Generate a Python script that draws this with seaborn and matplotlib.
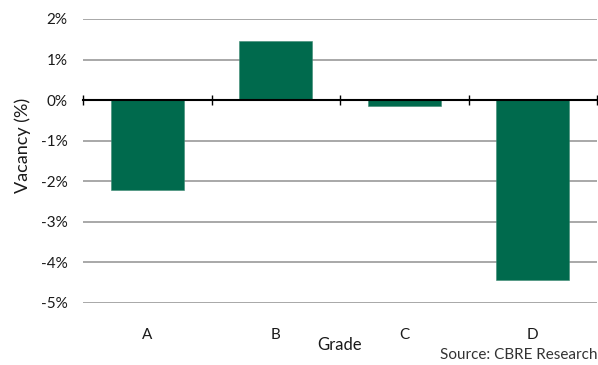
import matplotlib
matplotlib.use("Agg")
import matplotlib.pyplot as plt
import seaborn as sns
import pandas as pd

grades = ["A", "B", "C", "D"]
vacancy_change = [-2.22, 1.45, -0.14, -4.43]
y_ticks = [2, 1, 0, -1, -2, -3, -4, -5]

sns.set_theme(style="white")
plt.rcParams["font.family"] = ["Lato", "DejaVu Sans"]

df = pd.DataFrame({"Grade": grades, "Vacancy": vacancy_change})

fig = plt.figure(figsize=(5.98, 3.65), dpi=100)
ax = fig.add_axes([83 / 598, 1 - 303 / 365, 514 / 598, 284 / 365])

sns.barplot(data=df, x="Grade", y="Vacancy", color="#006A4D", saturation=1,
            width=0.57, ax=ax, zorder=3, edgecolor="#3d8a73", linewidth=0.4)

ax.set_ylim(-5, 2)
ax.set_yticks(y_ticks)
ax.set_yticklabels([f"{t}%" for t in y_ticks])
ax.yaxis.grid(True, color="#999999", linewidth=1.2, zorder=0)
ax.set_axisbelow(True)
for s in ax.spines.values():
    s.set_visible(False)

ax.tick_params(axis="y", length=0, pad=11, labelsize=11, labelcolor="#1a1a1a")
ax.tick_params(axis="x", length=0, pad=18, labelsize=11, labelcolor="#1a1a1a")

ax.set_ylabel("Vacancy (%)", fontsize=13, color="#1a1a1a")
ax.yaxis.set_label_coords(-0.101, 0.556)
ax.set_xlabel("Grade", fontsize=12, color="#1a1a1a")
ax.xaxis.set_label_coords(0.5, -0.118)

# category axis drawn along the zero line with boundary ticks
zero_axis = ax.secondary_xaxis(0, transform=ax.transData)
zero_axis.set_xticks([-0.5, 0.5, 1.5, 2.5, 3.5])
zero_axis.set_xticklabels([])
zero_axis.tick_params(axis="x", direction="inout", length=7, width=1, color="black")
zero_axis.spines["bottom"].set_color("black")
zero_axis.spines["bottom"].set_linewidth(1.5)
zero_axis.spines["bottom"].set_zorder(5)
zero_axis.set_zorder(5)

fig.text(597 / 598, 1 - 355 / 365, "Source: CBRE Research", ha="right", va="center",
         fontsize=11, color="#333333")

fig.savefig("out.png", dpi=100)
